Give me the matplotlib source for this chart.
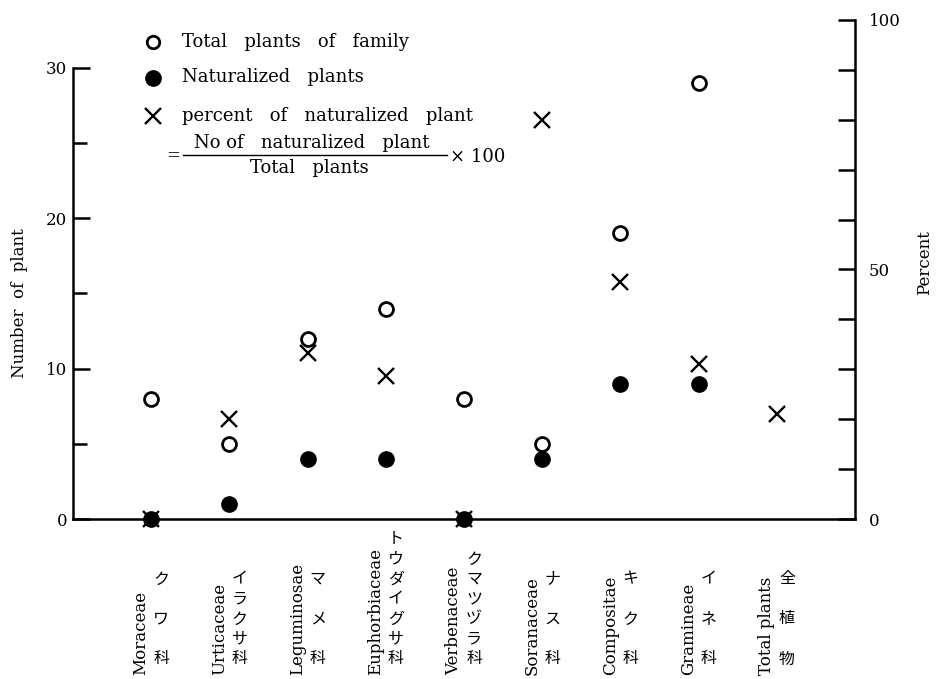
import numpy as np
import matplotlib
matplotlib.use("Agg")
import matplotlib.pyplot as plt
from matplotlib.lines import Line2D
from matplotlib.transforms import blended_transform_factory

# data
families_lat = ["Moraceae", "Urticaceae", "Leguminosae", "Euphorbiaceae", "Verbenaceae",
                "Soranaceae", "Compositae", "Gramineae", "Total plants"]
families_jp = ["クワ科", "イラクサ科", "マメ科", "トウダイグサ科", "クマツヅラ科",
               "ナス科", "キク科", "イネ科", "全植物"]
total_plants = [8, 5, 12, 14, 8, 5, 19, 29]
naturalized = [0, 1, 4, 4, 0, 4, 9, 9]
percent = [0, 20, 33.3, 28.6, 0, 80, 47.4, 31, 21]

W, H = 936, 679
plt.rcParams['font.family'] = ['DejaVu Serif']
fig = plt.figure(figsize=(W / 100, H / 100), dpi=100)

# axes box in pixels: left 73, right 855, bottom 519, top 20
ax = fig.add_axes([73 / W, 1 - 519 / H, (855 - 73) / W, (519 - 20) / H])
ax2 = ax.twinx()

x = np.arange(len(families_lat))
ax.set_xlim(-1, len(families_lat))
ax.set_ylim(0, 30 * 499 / 451)
ax2.set_ylim(0, 100)

ax.plot(x[:len(total_plants)], total_plants, 'o', mfc='white', mec='black', ms=10, mew=2, zorder=3)
ax.plot(x[:len(naturalized)], naturalized, 'o', color='black', ms=11, zorder=4)
ax2.plot(x, percent, 'x', color='black', ms=11, mew=1.7, zorder=5)
for a in (ax, ax2):
    for ln in a.lines:
        ln.set_clip_on(False)

# spines
for a in (ax, ax2):
    a.spines['top'].set_visible(False)
ax.spines['right'].set_visible(False)
ax2.spines['left'].set_visible(False)
ax.spines['left'].set_bounds(0, 30)
for s in ('left', 'bottom'):
    ax.spines[s].set_linewidth(1.8)
ax2.spines['right'].set_linewidth(1.8)

ax.set_xticks([])
ax.set_yticks([0, 10, 20, 30])
ax.set_yticks([5, 15, 25], minor=True)
ax.tick_params(axis='y', which='major', direction='in', length=12, width=1.8, labelsize=12, pad=4)
ax.tick_params(axis='y', which='minor', direction='in', length=10, width=1.8)
ax2.set_yticks(np.arange(0, 101, 10))
ax2.set_yticklabels(["0" if v == 0 else "50" if v == 50 else "100" if v == 100 else "" for v in range(0, 101, 10)])
ax2.tick_params(axis='y', direction='in', length=12, width=1.8, labelsize=12, pad=10)


def fx(px):
    return px / W


def fy(py):
    return 1 - py / H


fig.text(fx(20), fy(303), "Number  of  plant", rotation=90, ha='center', va='center', fontsize=12)
fig.text(fx(925), fy(263), "Percent", rotation=90, ha='center', va='center', fontsize=12)

# category labels: latin rotated, japanese stacked vertically
trans = blended_transform_factory(ax.transData, ax.transAxes)
jp_font = ['Noto Sans CJK JP', 'DejaVu Sans']
for i, (lat, jp) in enumerate(zip(families_lat, families_jp)):
    ax.text(i - 0.13, -(675 - 519) / 499, lat, rotation=90, ha='center', va='bottom',
            fontsize=12, transform=trans)
    n = len(jp)
    step = max(80 / (n - 1), 20)
    for k, ch in enumerate(jp):
        ypix = 659 - (n - 1 - k) * step
        ax.text(i + 0.13, -(ypix - 519) / 499, ch, ha='center', va='center',
                fontsize=11.5, family=jp_font, transform=trans)

# legend drawn by hand
fig.add_artist(Line2D([fx(153)], [fy(42)], marker='o', mfc='white', mec='black', ms=9, mew=2))
fig.add_artist(Line2D([fx(153)], [fy(78)], marker='o', color='black', ms=11))
fig.add_artist(Line2D([fx(153)], [fy(116)], marker='x', color='black', ms=11, mew=1.7))
fig.text(fx(182), fy(42), "Total   plants   of   family", fontsize=13, va='center')
fig.text(fx(182), fy(77), "Naturalized   plants", fontsize=13, va='center')
fig.text(fx(182), fy(116), "percent   of   naturalized   plant", fontsize=13, va='center')
fig.text(fx(173), fy(156), "=", fontsize=12, va='center', ha='center')
fig.text(fx(312), fy(143), "No of   naturalized   plant", fontsize=13, va='center', ha='center')
fig.add_artist(Line2D([fx(183), fx(447)], [fy(155), fy(155)], color='black', lw=1))
fig.text(fx(309), fy(168), "Total   plants", fontsize=13, va='center', ha='center')
fig.text(fx(450), fy(157), "× 100", fontsize=13, va='center', ha='left')

plt.savefig("out.png", dpi=100)
